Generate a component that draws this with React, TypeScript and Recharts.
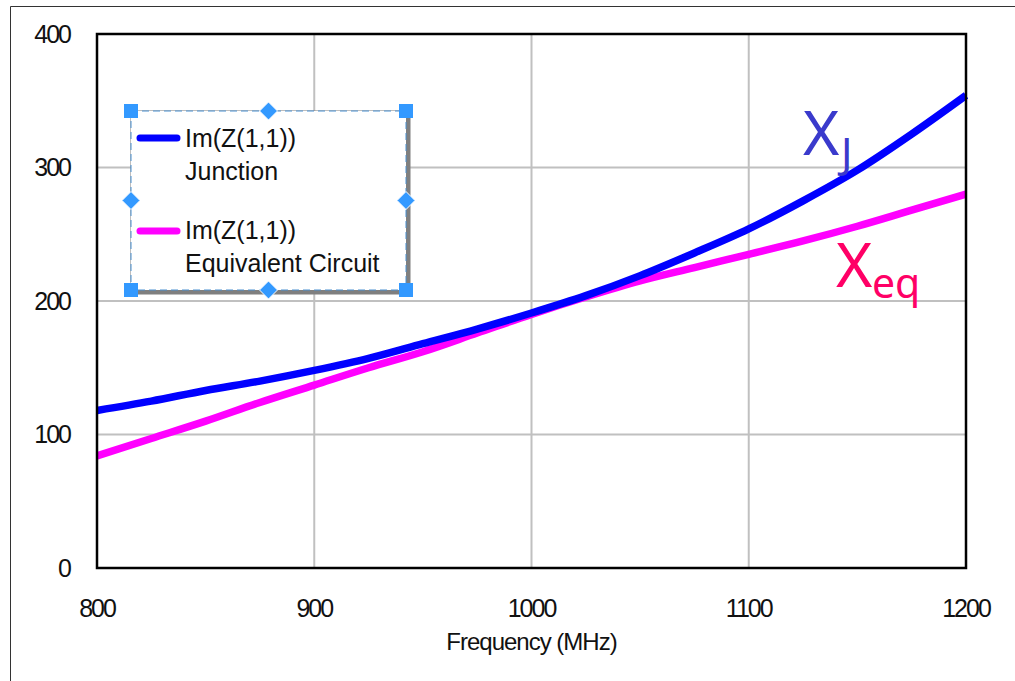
import React from 'react';
import { LineChart, Line, XAxis, YAxis, CartesianGrid } from 'recharts';

const frequencies = [800, 825, 850, 875, 900, 925, 950, 975, 1000, 1025, 1050, 1075, 1100, 1125, 1150, 1175, 1200];
const junction = [118, 125, 133, 140, 148, 157, 168, 179, 191, 204, 219, 236, 254, 275, 298, 325, 354];
const equivalent = [84, 97, 110, 124, 137, 150, 162, 176, 190, 203, 215, 225, 235, 245, 256, 268, 280];
const xTicks = [800, 900, 1000, 1100, 1200];
const yTicks = [0, 100, 200, 300, 400];
const legendLabels = [
  ['Im(Z(1,1))', 'Junction'],
  ['Im(Z(1,1))', 'Equivalent Circuit'],
];
const xAxisTitle = 'Frequency (MHz)';

const data = frequencies.map((f, i) => ({ f, junction: junction[i], equivalent: equivalent[i] }));

const W = 1015;
const H = 681;
const M = { top: 34, right: 49, bottom: 0, left: 0 };
const YW = 97;
const XH = 113;
const PL = M.left + YW;
const PT = M.top;
const PR = W - M.right;
const PB = H - M.bottom - XH;

const FONT = '"Liberation Sans", Arial, sans-serif';
const tickStyle = { fontSize: 25, fill: '#111', fontFamily: FONT, letterSpacing: -2 };

const handle = '#3399ff';

function Square({ x, y }: { x: number; y: number }) {
  return <rect x={x - 7} y={y - 7} width={14} height={14} fill={handle} />;
}
function Diamond({ x, y }: { x: number; y: number }) {
  return (
    <polygon
      points={`${x},${y - 9} ${x + 9},${y} ${x},${y + 9} ${x - 9},${y}`}
      fill={handle}
      stroke="#fff"
      strokeWidth={1}
    />
  );
}

export default function App() {
  const lx1 = 131, ly1 = 111, lx2 = 406, ly2 = 290;
  const mx = (lx1 + lx2) / 2, my = (ly1 + ly2) / 2;
  return (
    <div style={{ position: 'absolute', left: 0, top: 0, width: W, height: H, background: '#fff' }}>
      <LineChart width={W} height={H} data={data} margin={M}>
        <CartesianGrid stroke="#c0c0c0" strokeWidth={2} />
        <XAxis
          dataKey="f"
          type="number"
          domain={[800, 1200]}
          ticks={xTicks}
          height={XH}
          axisLine={false}
          tickLine={false}
          tickSize={0}
          tickMargin={31}
          tick={tickStyle}
          interval={0}
        />
        <YAxis
          type="number"
          domain={[0, 400]}
          ticks={yTicks}
          width={YW}
          axisLine={false}
          tickLine={false}
          tickSize={0}
          tickMargin={27}
          tick={tickStyle}
          interval={0}
        />
        <Line
          dataKey="equivalent"
          type="monotone"
          stroke="#ff00ff"
          strokeWidth={7.5}
          dot={false}
          isAnimationActive={false}
        />
        <Line
          dataKey="junction"
          type="monotone"
          stroke="#0000ff"
          strokeWidth={7.5}
          dot={false}
          isAnimationActive={false}
        />
      </LineChart>
      <svg
        width={W}
        height={H}
        style={{ position: 'absolute', left: 0, top: 0, pointerEvents: 'none' }}
      >
        <path d={`M10.5 ${H} V6.5 H${W}`} stroke="#333" strokeWidth={1} fill="none" />
        <rect x={PL} y={PT} width={PR - PL} height={PB - PT} fill="none" stroke="#000" strokeWidth={2.5} />

        {/* legend */}
        <rect x={lx1 + 2} y={ly1 + 2} width={lx2 - lx1} height={ly2 - ly1} fill="none" stroke="#7f7f7f" strokeWidth={5} />
        <rect x={lx1} y={ly1} width={lx2 - lx1} height={ly2 - ly1} fill="#fff" stroke="none" />
        <rect
          x={lx1}
          y={ly1}
          width={lx2 - lx1}
          height={ly2 - ly1}
          fill="none"
          stroke="#4a90d0"
          strokeWidth={1}
          strokeDasharray="7 4"
        />
        <line x1={140} y1={138} x2={177} y2={138} stroke="#0000ff" strokeWidth={7} strokeLinecap="round" />
        <line x1={140} y1={231} x2={177} y2={231} stroke="#ff00ff" strokeWidth={7} strokeLinecap="round" />
        <g fontFamily={FONT} fontSize={25} fill="#111">
          <text x={185} y={147}>{legendLabels[0][0]}</text>
          <text x={185} y={180}>{legendLabels[0][1]}</text>
          <text x={185} y={239}>{legendLabels[1][0]}</text>
          <text x={185} y={272}>{legendLabels[1][1]}</text>
        </g>
        <Square x={lx1} y={ly1} />
        <Square x={lx2} y={ly1} />
        <Square x={lx1} y={ly2} />
        <Square x={lx2} y={ly2} />
        <Diamond x={mx} y={ly1} />
        <Diamond x={mx} y={ly2} />
        <Diamond x={lx1} y={my} />
        <Diamond x={lx2} y={my} />

        {/* curve annotations */}
        <text x={803} y={155} fontFamily='"Noto Sans", sans-serif' fontSize={62} fill="#3a3acc">
          X
        </text>
        <text x={841} y={168} fontFamily='"Noto Sans", sans-serif' fontSize={42} fill="#3a3acc">
          J
        </text>
        <text x={836} y={287} fontFamily='"Noto Sans", sans-serif' fontSize={62} fill="#ff0066">
          X
        </text>
        <text x={872} y={298} fontFamily='"Noto Sans", sans-serif' fontSize={41} fill="#ff0066">
          eq
        </text>

        <text
          x={(PL + PR) / 2}
          y={650}
          textAnchor="middle"
          fontFamily={FONT}
          fontSize={24}
          letterSpacing={-1}
          fill="#111"
        >
          {xAxisTitle}
        </text>
      </svg>
    </div>
  );
}
